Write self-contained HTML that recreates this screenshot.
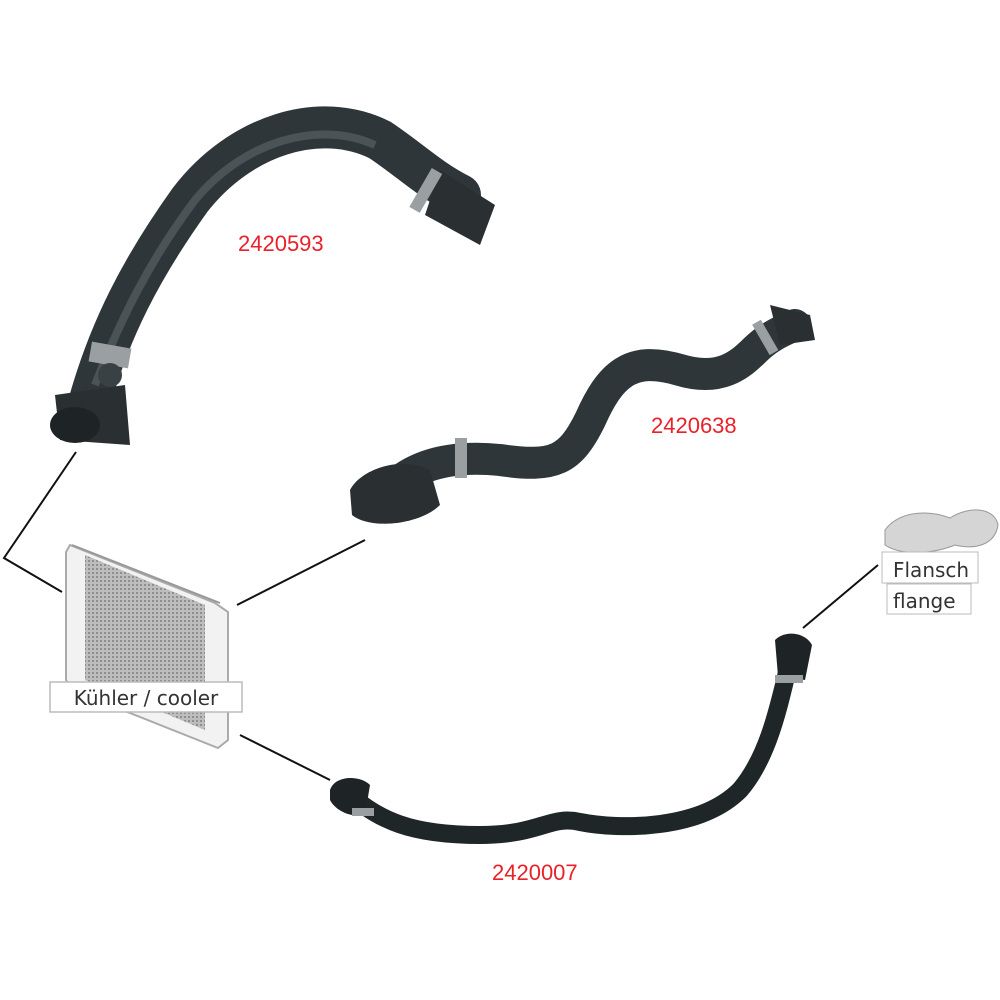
<!DOCTYPE html>
<html><head><style>
body{margin:0;background:#fff;width:1000px;height:1000px;overflow:hidden}
svg{position:absolute;left:0;top:0}
.lbl{font-family:"DejaVu Sans","Liberation Sans",sans-serif}
</style></head><body>
<svg width="1000" height="1000" viewBox="0 0 1000 1000">
<defs>
<pattern id="mesh" width="4" height="4" patternUnits="userSpaceOnUse"><rect width="4" height="4" fill="#bdbdbd"/><rect width="2" height="2" fill="#8f8f8f"/></pattern>
</defs>
<!-- connector lines -->
<g stroke="#111" stroke-width="2" fill="none">
<polyline points="76,452 4,558 62,592"/>
<line x1="237" y1="605" x2="365" y2="540"/>
<line x1="240" y1="735" x2="330" y2="780"/>
<line x1="803" y1="628" x2="878" y2="565"/>
</g>
<!-- radiator -->
<g>
<path d="M70,545 L215,603 L228,612 L228,740 L218,748 L72,690 L66,680 L66,552 Z" fill="#f2f2f2" stroke="#aaa" stroke-width="2"/>
<path d="M85,555 L205,605 L205,730 L85,680 Z" fill="url(#mesh)"/>
<path d="M72,545 L220,603" stroke="#999" stroke-width="2"/>
</g>
<rect x="50" y="682" width="192" height="30" fill="#fff" stroke="#bbb" stroke-width="1.5"/>
<text x="146" y="705" text-anchor="middle" class="lbl" font-size="20" fill="#333">Kühler / cooler</text>
<!-- flange -->
<path d="M885,530 C900,510 930,510 950,518 C970,505 995,508 998,525 C995,545 975,550 955,545 C930,555 900,555 885,545 Z" fill="#d5d5d5" stroke="#999"/>
<rect x="882" y="552" width="96" height="31" fill="#fff" stroke="#bbb"/>
<rect x="887" y="584" width="84" height="30" fill="#fff" stroke="#bbb"/>
<text x="893" y="577" class="lbl" font-size="20" fill="#333">Flansch</text>
<text x="893" y="608" class="lbl" font-size="20" fill="#333">flange</text>
<!-- top hose -->
<path d="M90,400 C110,330 140,270 190,200 C240,135 320,110 380,140 C410,160 430,180 460,195" stroke="#2f3639" stroke-width="42" fill="none" stroke-linecap="round"/>
<path d="M95,385 C120,320 150,260 195,200 C245,140 320,120 375,145" stroke="#4a5356" stroke-width="8" fill="none"/>
<path d="M440,170 L495,205 L480,245 L425,215 Z" fill="#2a2f31"/>
<rect x="420" y="168" width="12" height="45" fill="#9aa0a2" transform="rotate(30 426 190)"/>
<path d="M55,395 L125,385 L130,445 L60,440 Z" fill="#2a2f31"/>
<ellipse cx="75" cy="425" rx="25" ry="18" fill="#1e2325"/>
<rect x="90" y="345" width="40" height="20" fill="#9aa0a2" transform="rotate(10 110 355)"/>
<circle cx="110" cy="375" r="12" fill="#3a4144"/>
<!-- middle hose -->
<path d="M385,495 C410,465 450,455 500,460 C555,468 570,460 590,420 C610,375 630,355 680,370 C720,382 740,365 755,350 C770,335 785,330 795,325" stroke="#2f3639" stroke-width="32" fill="none" stroke-linecap="round"/>
<path d="M350,490 C360,470 400,455 430,470 L440,505 C420,525 370,530 352,515 Z" fill="#2a2f31"/>
<rect x="455" y="438" width="12" height="40" fill="#9aa0a2"/>
<rect x="760" y="320" width="10" height="35" fill="#9aa0a2" transform="rotate(-30 765 337)"/>
<path d="M770,305 L810,315 L815,340 L780,345 Z" fill="#2a2f31"/>
<!-- bottom hose -->
<path d="M350,795 C380,820 410,835 480,835 C540,835 550,815 580,822 C620,830 700,830 740,790 C770,755 780,700 790,660" stroke="#1f2628" stroke-width="18" fill="none" stroke-linecap="round"/>
<path d="M330,790 C335,775 360,775 370,785 L365,815 C350,818 335,810 330,800 Z" fill="#1e2325"/>
<rect x="352" y="808" width="22" height="8" fill="#9aa0a2"/>
<path d="M775,640 C785,630 805,632 812,645 L805,680 L778,676 Z" fill="#1e2325"/>
<rect x="775" y="675" width="28" height="8" fill="#9aa0a2"/>
<!-- part numbers -->
<text x="238" y="251" font-family="Liberation Sans,sans-serif" font-size="22" fill="#e8212a">2420593</text>
<text x="651" y="433" font-family="Liberation Sans,sans-serif" font-size="22" fill="#e8212a">2420638</text>
<text x="492" y="880" font-family="Liberation Sans,sans-serif" font-size="22" fill="#e8212a">2420007</text>
</svg>
</body></html>
